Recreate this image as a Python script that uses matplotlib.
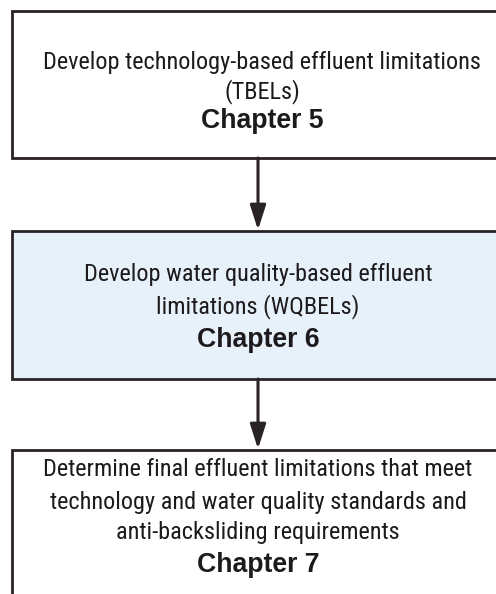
import matplotlib
matplotlib.use("Agg")
import matplotlib.pyplot as plt
from matplotlib import font_manager
from matplotlib.patches import Rectangle, FancyArrowPatch

# flowchart content
steps = [
    ["Develop technology-based effluent limitations", "(TBELs)"],
    ["Develop water quality-based effluent", "limitations (WQBELs)"],
    ["Determine final effluent limitations that meet",
     "technology and water quality standards and",
     "anti-backsliding requirements"],
]
chapters = ["Chapter 5", "Chapter 6", "Chapter 7"]
fills = ["white", "#e6f1f9", "white"]

# layout in pixels
box_top = [11, 231, 450]
box_bottom = [158, 379, 620]
box_left, box_right = 12, 512
line_y = [[63, 92], [275, 307], [470, 502, 533]]
chapter_y = [121, 340, 565]
arrow_x = 258

W, H = 496, 594
fig = plt.figure(figsize=(W / 100, H / 100), dpi=100)
ax = fig.add_axes([0, 0, 1, 1])
ax.set_xlim(0, W)
ax.set_ylim(H, 0)
ax.axis("off")

edge = "#2a2326"
names = {f.name for f in font_manager.fontManager.ttflist}
narrow = "Liberation Sans"
for cand in ["Liberation Sans Narrow", "DejaVu Sans Condensed", "Roboto Condensed", "Open Sans Condensed"]:
    if cand in names:
        narrow = cand
        break

texts = []
for i, lines in enumerate(steps):
    ax.add_patch(Rectangle((box_left, box_top[i]), box_right - box_left,
                           box_bottom[i] - box_top[i], facecolor=fills[i],
                           edgecolor=edge, lw=2.0))
    cx = 262 if i == 0 else 258
    for j, line in enumerate(lines):
        t = ax.text(cx, line_y[i][j], line, ha="center", va="center",
                    fontsize=18, family=[narrow, "DejaVu Sans"], color="#1c1a1c")
        texts.append(t)
    c = ax.text(cx, chapter_y[i], chapters[i], ha="center", va="center",
                fontsize=18, fontweight="bold",
                family=["Liberation Sans", "DejaVu Sans"], color="#1c1a1c")
    texts.append(c)

# fit sizes: regular line width of "Develop technology..." ~439 px, "Chapter 5" ~123 px
fig.canvas.draw()
r = fig.canvas.get_renderer()
w_reg = texts[0].get_window_extent(r).width
w_bold = texts[2].get_window_extent(r).width
for t in texts:
    if t.get_fontweight() == "bold":
        t.set_fontsize(18 * 123 / w_bold)
    else:
        t.set_fontsize(min(18, 18 * 439 / w_reg))

for i in range(len(steps) - 1):
    ax.add_patch(FancyArrowPatch((arrow_x, box_bottom[i]), (arrow_x, box_top[i + 1] - 1),
                                 arrowstyle="-|>,head_length=1.0,head_width=0.32",
                                 mutation_scale=15, color=edge, lw=2.2,
                                 shrinkA=0, shrinkB=0))

fig.savefig("out.png", dpi=100)
